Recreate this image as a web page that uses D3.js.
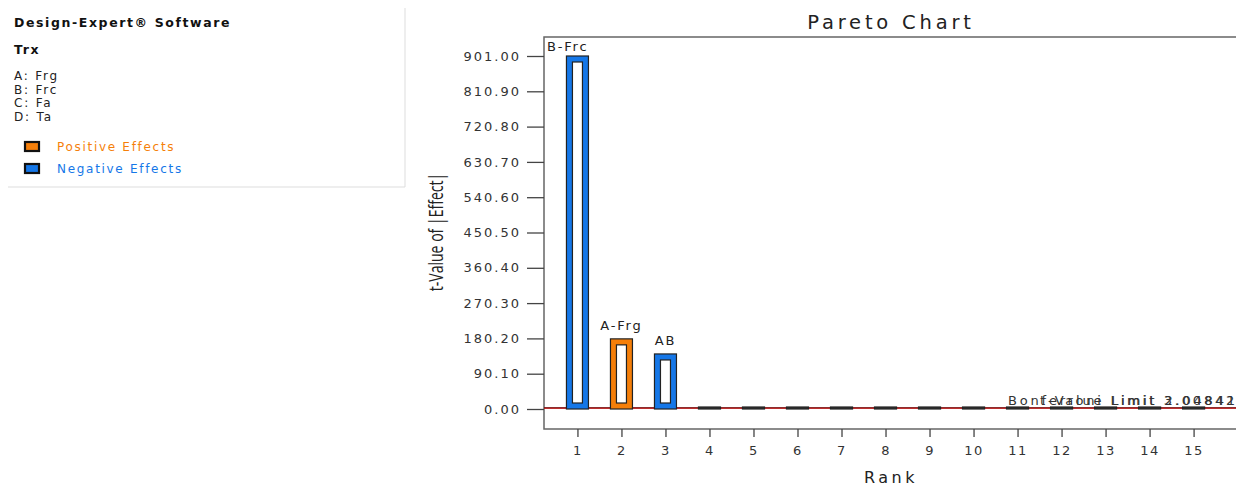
<!DOCTYPE html>
<html>
<head>
<meta charset="utf-8">
<script src="https://cdn.jsdelivr.net/npm/d3@7"></script>
<style>
  body { margin: 0; background: #fff; }
  svg { display: block; }
  text { font-family: "DejaVu Sans", "Open Sans", sans-serif; }
</style>
</head>
<body>
<div id="chart"></div>
<script>
// Effect data (rank order)
var ranks   = [1, 2, 3, 4, 5, 6, 7, 8, 9, 10, 11, 12, 13, 14, 15];
var terms   = ["B-Frc", "A-Frg", "AB", "", "", "", "", "", "", "", "", "", "", "", ""];
var tValues = [901.0, 179.0, 140.5, 1.9, 1.7, 1.5, 1.3, 1.2, 1.0, 0.9, 0.8, 0.6, 0.5, 0.4, 0.3];
var signs   = ["neg", "pos", "neg", "neg", "pos", "neg", "pos", "neg", "pos", "neg", "pos", "neg", "pos", "neg", "pos"];
var yTicks  = [0.00, 90.10, 180.20, 270.30, 360.40, 450.50, 540.60, 630.70, 720.80, 810.90, 901.00];
var factors = ["A: Frg", "B: Frc", "C: Fa", "D: Ta"];
var limits  = [
	{ name: "Bonferroni Limit", value: 3.00842, color: "#111111", labelX: 1008 },
	{ name: "t-Value Limit", value: 2.04841, color: "#cc1111", labelX: 1040 }
];

var W = 1236, H = 487;
var colors = { pos: "#f57f0a", neg: "#1577e8" };

var svg = d3.select('#chart').append('svg')
	.attr('width', W)
	.attr('height', H);

// ---- left info panel ----
var panel = svg.append('g');
panel.append('line')
	.attr('x1', 405).attr('x2', 405).attr('y1', 8).attr('y2', 187)
	.attr('stroke', '#dddddd');
panel.append('line')
	.attr('x1', 8).attr('x2', 405).attr('y1', 187).attr('y2', 187)
	.attr('stroke', '#dddddd');
panel.append('text')
	.attr('x', 14).attr('y', 27)
	.style('font-size', '12.5px').style('font-weight', 'bold')
	.style('letter-spacing', '1.6px')
	.attr('fill', '#111')
	.text('Design-Expert® Software');
panel.append('text')
	.attr('x', 14).attr('y', 54)
	.style('font-size', '12.5px').style('font-weight', 'bold')
	.style('letter-spacing', '1.6px')
	.attr('fill', '#111')
	.text('Trx');
panel.selectAll('text.factor')
	.data(factors)
	.enter()
	.append('text')
	.classed('factor', true)
	.attr('x', 14)
	.attr('y', function(d, i) { return 80 + i * 13.5; })
	.style('font-size', '12px')
	.style('letter-spacing', '1.8px')
	.attr('fill', '#222')
	.text(function(d) { return d; });

var legendItems = [
	{ label: "Positive Effects", key: "pos" },
	{ label: "Negative Effects", key: "neg" }
];
legendItems.forEach(function(d, i) {
	let yy = 142 + i * 22;
	panel.append('rect')
		.attr('x', 25).attr('y', yy)
		.attr('width', 14).attr('height', 9)
		.attr('fill', colors[d.key])
		.attr('stroke', '#111').attr('stroke-width', 2.2);
	panel.append('text')
		.attr('x', 57).attr('y', yy + 9)
		.style('font-size', '12px')
		.style('letter-spacing', '1.7px')
		.attr('fill', colors[d.key])
		.text(d.label);
});

// ---- Pareto chart ----
var pLeft = 544, pTop = 37, pRight = 1240, pBottom = 429;

var x = d3.scaleLinear()
	.domain([0.24, 16.1])
	.range([pLeft, pRight + 2]);

var y = d3.scaleLinear()
	.domain([0, 901])
	.range([409, 56]);

svg.append('text')
	.attr('x', 891).attr('y', 29)
	.attr('text-anchor', 'middle')
	.style('font-size', '19.5px')
	.style('letter-spacing', '3.8px')
	.attr('fill', '#222')
	.text('Pareto Chart');

// frame
svg.append('path')
	.attr('d', 'M' + (pRight + 5) + ',' + pTop + 'H' + pLeft + 'V' + pBottom + 'H' + (pRight + 5))
	.attr('fill', 'none')
	.attr('stroke', '#666')
	.attr('stroke-width', 1.5);

// y axis
var yAxis = d3.axisLeft(y)
	.tickValues(yTicks)
	.tickSize(17)
	.tickPadding(6)
	.tickFormat(d3.format('.2f'));
var gy = svg.append('g')
	.attr('transform', 'translate(' + pLeft + ',0)')
	.call(yAxis);
gy.select('.domain').remove();
gy.selectAll('.tick line').attr('stroke', '#444').attr('stroke-width', 1.3);
gy.selectAll('.tick text')
	.style('font-size', '13px')
	.style('letter-spacing', '2px')
	.attr('fill', '#333')
	.style('font-family', '"DejaVu Sans", sans-serif');

// x axis
var xAxis = d3.axisBottom(x)
	.tickValues(ranks)
	.tickSize(8)
	.tickPadding(9)
	.tickFormat(d3.format('d'));
var gx = svg.append('g')
	.attr('transform', 'translate(0,' + pBottom + ')')
	.call(xAxis);
gx.select('.domain').remove();
gx.selectAll('.tick line').attr('stroke', '#444').attr('stroke-width', 1.3);
gx.selectAll('.tick text')
	.style('font-size', '13px')
	.style('letter-spacing', '1.5px')
	.attr('fill', '#333')
	.style('font-family', '"DejaVu Sans", sans-serif');

// axis titles
svg.append('text')
	.attr('transform', 'translate(443,232) rotate(-90) scale(0.72,1)')
	.attr('text-anchor', 'middle')
	.style('font-size', '19.5px')
	.style('font-family', '"Open Sans", sans-serif')
	.attr('fill', '#222')
	.text('t-Value of |Effect|');
svg.append('text')
	.attr('x', 891).attr('y', 483)
	.attr('text-anchor', 'middle')
	.style('font-size', '16px')
	.style('letter-spacing', '3.5px')
	.attr('fill', '#222')
	.text('Rank');

// limit lines
limits.forEach(function(d) {
	svg.append('line')
		.attr('x1', pLeft).attr('x2', pRight + 5)
		.attr('y1', y(d.value)).attr('y2', y(d.value))
		.attr('stroke', d.color)
		.attr('stroke-width', 1.2);
});

// bars
var barW = 22;
var bars = svg.append('g');
ranks.forEach(function(r, i) {
	let cx = x(r);
	let y0 = y(0), y1 = y(tValues[i]);
	let h = Math.max(y0 - y1, 2);
	bars.append('rect')
		.attr('x', cx - barW / 2).attr('y', y0 - h)
		.attr('width', barW).attr('height', h)
		.attr('fill', h > 12 ? colors[signs[i]] : '#333')
		.attr('stroke', '#222').attr('stroke-width', 1.2);
	if (h > 12) {
		bars.append('rect')
			.attr('x', cx - barW / 2 + 6).attr('y', y0 - h + 6)
			.attr('width', barW - 12).attr('height', h - 12)
			.attr('fill', '#fff')
			.attr('stroke', '#222').attr('stroke-width', 1.2);
	}
});

// bar labels
ranks.forEach(function(r, i) {
	if (!terms[i]) return;
	let t = svg.append('text')
		.attr('x', x(r)).attr('y', y(tValues[i]) - 9)
		.attr('text-anchor', 'middle')
		.style('font-size', '13px')
		.style('letter-spacing', '1.8px')
		.attr('fill', '#222')
		.text(terms[i]);
	let bb = t.node().getBBox();
	if (bb.y < pTop + 2) {
		t.attr('text-anchor', 'start')
			.attr('x', pLeft + 3)
			.attr('y', pTop + 14);
	}
});

// limit labels (overlapping as in source)
limits.forEach(function(d) {
	svg.append('text')
		.attr('x', d.labelX).attr('y', 405)
		.style('font-size', '13px')
		.style('letter-spacing', '2.8px')
		.attr('fill', '#333')
		.text(d.name + ' ' + d.value.toFixed(5));
});
</script>
</body>
</html>
